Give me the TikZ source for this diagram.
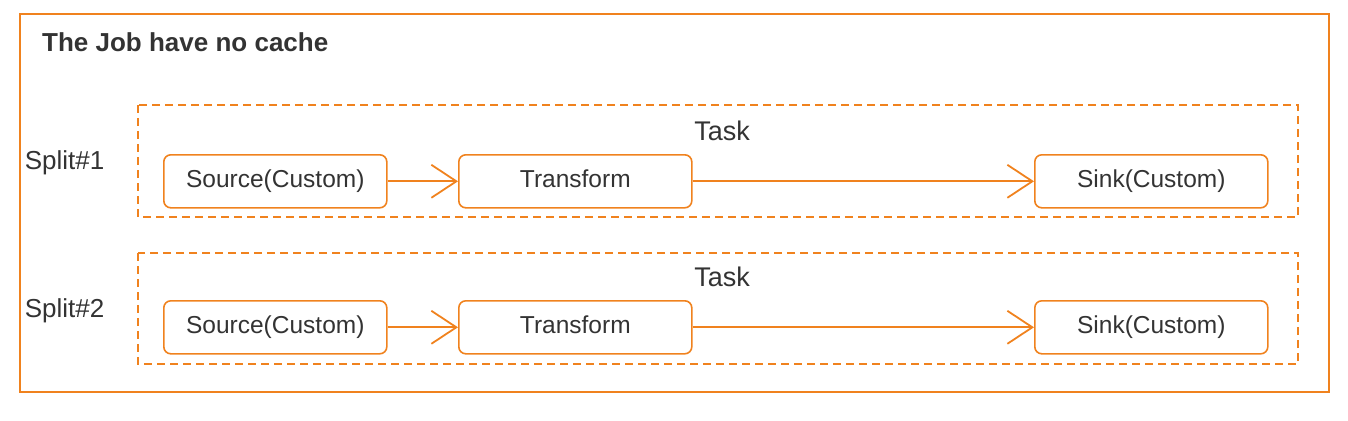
\documentclass[tikz,border=0pt]{standalone}
\usepackage{fontspec}
\setmainfont{Liberation Sans}
\usetikzlibrary{arrows.meta}
\definecolor{org}{RGB}{240,130,30}
\definecolor{txt}{RGB}{51,51,51}
\begin{document}
\begin{tikzpicture}[x=1pt,y=-1pt,
  op/.style={draw=org,line width=1.6pt,rounded corners=7pt,minimum width=223pt,minimum height=53pt,anchor=north west,inner sep=0pt,text=txt,text height=17pt,text depth=5pt,font=\fontsize{24.5}{28}\selectfont},
  taskbox/.style={draw=org,line width=1.6pt,dash pattern=on 8pt off 5pt},
  flow/.style={color=org,line width=1.8pt,-{Straight Barb[length=25pt,width=33pt,line width=1.8pt]}},
  lbl/.style={text=txt,font=\fontsize{26}{30}\selectfont,inner sep=0pt}]
\useasboundingbox (0,0) rectangle (1348,420);
\draw[org,line width=2pt] (20,14) rectangle (1329,392);
\node[anchor=west,text=txt,font=\bfseries\fontsize{26}{30}\selectfont,inner sep=0pt] (title) at (42,42) {The Job have no cache};
% task boxes
\draw[taskbox] (138,105) rectangle (1298,217);
\draw[taskbox] (138,253) rectangle (1298,364);
\node[lbl,font=\fontsize{27}{30}\selectfont] (task1) at (722,131) {Task};
\node[lbl,font=\fontsize{27}{30}\selectfont] (task2) at (722,277) {Task};
\node[lbl] (split1) at (64.5,163) {Split\#1};
\node[lbl] (split2) at (64.5,311) {Split\#2};
% row 1
\node[op] (src1) at (163,154) {Source(Custom)};
\node[op,minimum width=233pt] (tr1) at (458,154) {Transform};
\node[op,minimum width=233pt] (snk1) at (1034,154) {Sink(Custom)};
% row 2
\node[op] (src2) at (163,300) {Source(Custom)};
\node[op,minimum width=233pt] (tr2) at (458,300) {Transform};
\node[op,minimum width=233pt] (snk2) at (1034,300) {Sink(Custom)};
\draw[flow] (src1) -- (tr1);
\draw[flow] (tr1) -- (snk1);
\draw[flow] (src2) -- (tr2);
\draw[flow] (tr2) -- (snk2);
\end{tikzpicture}
\end{document}
